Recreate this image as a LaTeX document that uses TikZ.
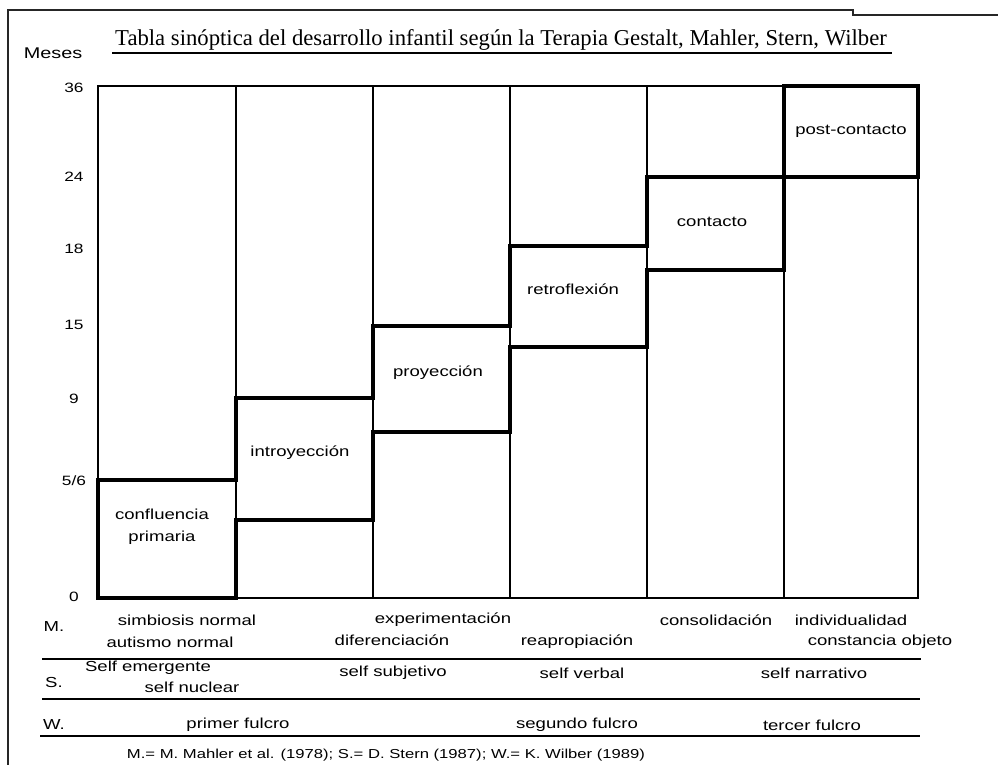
\documentclass[tikz,border=0pt]{standalone}
\usepackage{fontspec}
\setmainfont{Liberation Sans}
\newfontfamily\tspixfont[FakeStretch=1.28]{Liberation Sans}
\newfontfamily\tsseriffont{Liberation Serif}
\tikzset{
  tsthin/.style={draw=black, line width=1.3pt},
  tsthick/.style={draw=black, line width=3.2pt, line join=miter},
  tsframe/.style={draw=black!85, line width=1.5pt},
  tslabel/.style={font=\tspixfont\fontsize{14.5}{22}\selectfont,
    inner sep=0pt, align=center},
  tsaxis/.style={font=\tspixfont\fontsize{13.5}{14}\selectfont, inner sep=0pt},
  tstitle/.style={font=\tsseriffont\fontsize{22.7}{24}\selectfont, inner sep=0pt},
}

\begin{document}
\begin{tikzpicture}[x=1pt, y=-1pt]
\useasboundingbox (0,0) rectangle (998,765);

% Frame of the page.
\draw[tsframe] (8,765) -- (8,10) -- (853,10) -- (853,15) -- (998,15);

% Header.
\node[tstitle] (title) at (501,40)
  {Tabla sinóptica del desarrollo infantil según la Terapia Gestalt, Mahler, Stern, Wilber};
\draw[line width=1.2pt] (112,53) -- (892,53);
\node[tsaxis, font=\tspixfont\fontsize{15.5}{16}\selectfont] (meses) at (53,53) {Meses};

% Month scale.
\foreach \lab/\yy [count=\i] in {36/88, 24/177, 18/249, 15/325, 9/399, 5\slash 6/481, 0/597}
  \node[tsaxis] (tick\i) at (74,\yy) {\lab};

% Grid of the six phases.
\draw[tsthin] (98,86) rectangle (918,598);
\foreach \xx in {236, 373, 510, 647, 784}
  \draw[tsthin] (\xx,86) -- (\xx,598);

% Upper and lower limits of each phase.
\draw[tsthick] (98,598) -- (98,480) -- (236,480) -- (236,398)
  -- (373,398) -- (373,326) -- (510,326) -- (510,246)
  -- (647,246) -- (647,177) -- (918,177) -- (918,86)
  -- (784,86) -- (784,270) -- (647,270) -- (647,347)
  -- (510,347) -- (510,432) -- (373,432) -- (373,520)
  -- (236,520) -- (236,598) -- cycle;

% Phase names.
\node[tslabel] (confluencia) at (162,527) {confluencia\\primaria};
\node[tslabel] (introyeccion) at (300,453) {introyección};
\node[tslabel] (proyeccion) at (438,373) {proyección};
\node[tslabel] (retroflexion) at (573,289) {retroflexión};
\node[tslabel] (contacto) at (712,222) {contacto};
\node[tslabel] (postcontacto) at (851,131) {post-contacto};

% Mahler.
\node[tslabel] (mrow) at (54,627) {M.};
\node[tslabel] (simbiosis) at (187,620) {simbiosis normal};
\node[tslabel] (autismo) at (170,642) {autismo normal};
\node[tslabel] (experimentacion) at (443,620) {experimentación};
\node[tslabel] (diferenciacion) at (392,640) {diferenciación};
\node[tslabel] (reapropiacion) at (577,642) {reapropiación};
\node[tslabel] (consolidacion) at (716,620) {consolidación};
\node[tslabel] (individualidad) at (851,620) {individualidad};
\node[tslabel] (constancia) at (880,642) {constancia objeto};
\draw[tsthin] (42,659) -- (921,659);

% Stern.
\node[tslabel] (srow) at (54,683) {S.};
\node[tslabel] (emergente) at (148,668) {Self emergente};
\node[tslabel] (nuclear) at (192,687) {self nuclear};
\node[tslabel] (subjetivo) at (393,673) {self subjetivo};
\node[tslabel] (verbal) at (582,673) {self verbal};
\node[tslabel] (narrativo) at (814,673) {self narrativo};
\draw[tsthin] (42,699) -- (920,699);

% Wilber.
\node[tslabel] (wrow) at (54,725) {W.};
\node[tslabel] (primer) at (238,725) {primer fulcro};
\node[tslabel] (segundo) at (577,725) {segundo fulcro};
\node[tslabel] (tercer) at (812,725) {tercer fulcro};
\draw[tsthin] (40,736) -- (920,736);

% Sources.
\node[tslabel, font=\tspixfont\fontsize{13}{14}\selectfont] (fuentes) at (386,755)
  {M.= M. Mahler et al. (1978); S.= D. Stern (1987); W.= K. Wilber (1989)};

\end{tikzpicture}
\end{document}
